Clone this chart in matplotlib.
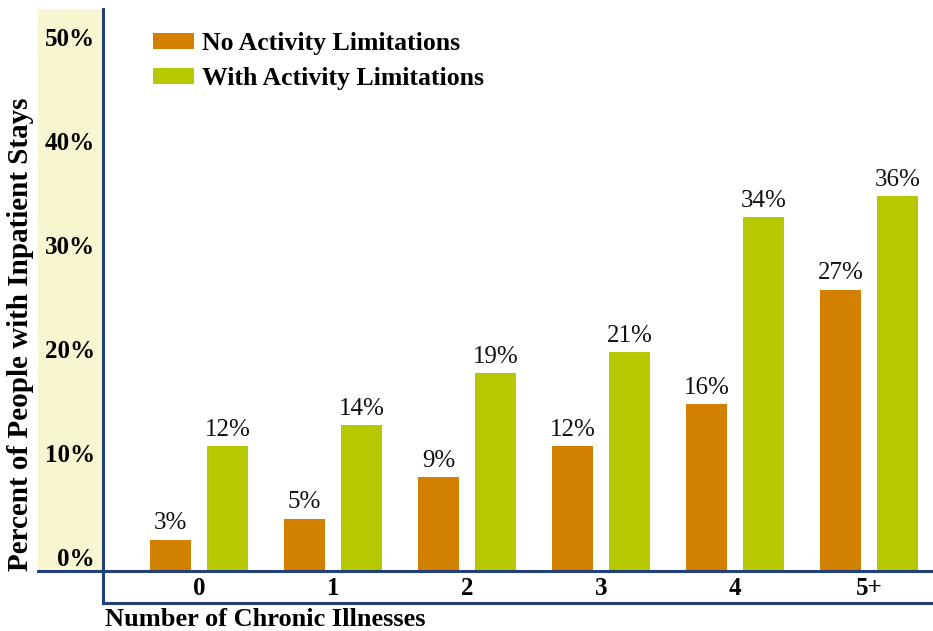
import matplotlib.pyplot as plt
import numpy as np
from matplotlib.lines import Line2D
from matplotlib.patches import Rectangle


# =====================================================
# DATA
# =====================================================

categories = ["0", "1", "2", "3", "4", "5+"]

no_limitations = [3, 5, 9, 12, 16, 27]
with_limitations = [12, 14, 19, 21, 34, 36]

y_ticks = [0, 10, 20, 30, 40, 50]
y_tick_labels = ["0%", "10%", "20%", "30%", "40%", "50%"]


# =====================================================
# STYLE
# =====================================================

plt.rcParams["font.family"] = ["Liberation Serif", "DejaVu Serif"]

ORANGE = "#D18000"
GREEN = "#B5C800"
NAVY = "#22417A"
BAND = "#F8F5D1"


# =====================================================
# FIGURE
# =====================================================

fig = plt.figure(figsize=(9.33, 6.31), dpi=100)

ax = fig.add_axes([0.1104, 0.0951, 0.8896, 0.8906])

x = np.arange(len(categories))
width = 0.306
offset = 0.213

bars_no = ax.bar(
    x - offset,
    no_limitations,
    width,
    color=ORANGE,
    label="No Activity Limitations",
    zorder=2
)

bars_with = ax.bar(
    x + offset,
    with_limitations,
    width,
    color=GREEN,
    label="With Activity Limitations",
    zorder=2
)

# value labels above the bars
for bars, values in [(bars_no, no_limitations), (bars_with, with_limitations)]:
    for bar, value in zip(bars, values):
        ax.annotate(
            f"{value}%",
            (bar.get_x() + bar.get_width() / 2, value),
            xytext=(0, 4),
            textcoords="offset points",
            ha="center",
            va="bottom",
            fontsize=18,
            color="#111111"
        )

ax.set_xlim(-0.716, 5.478)
ax.set_ylim(0, 54)

for spine in ax.spines.values():
    spine.set_visible(False)


# =====================================================
# TICKS
# =====================================================

ax.set_xticks(x)
ax.set_xticklabels(categories, fontsize=18, fontweight="bold")
ax.tick_params(axis="x", length=0, pad=4)

ax.set_yticks(y_ticks)
ax.set_yticklabels(y_tick_labels, fontsize=18, fontweight="bold")
ax.tick_params(axis="y", length=0, pad=6)

for label in ax.get_yticklabels():
    label.set_va("bottom")


# =====================================================
# FRAME: BAND AND AXIS LINES
# =====================================================

band_left = (38 - 103) / 830
bottom_line = -(603 - 571) / 562

ax.add_patch(Rectangle(
    (band_left, 0),
    -band_left,
    1,
    transform=ax.transAxes,
    facecolor=BAND,
    edgecolor="none",
    clip_on=False,
    zorder=0
))

line_kw = dict(
    color=NAVY,
    linewidth=2.2,
    transform=ax.transAxes,
    clip_on=False,
    zorder=3
)

ax.add_line(Line2D([band_left, 1], [0, 0], **line_kw))
ax.add_line(Line2D([0, 1], [bottom_line, bottom_line], **line_kw))
ax.add_line(Line2D([0, 0], [bottom_line, 1], **line_kw))


# =====================================================
# LEGEND AND AXIS TITLES
# =====================================================

ax.legend(
    loc="upper left",
    bbox_to_anchor=(0.048, 0.977),
    frameon=False,
    prop={"size": 18.5, "weight": "bold"},
    handlelength=1.6,
    handleheight=0.6,
    handletextpad=0.3,
    labelspacing=0.45,
    borderaxespad=0
)

fig.text(
    105 / 933,
    (631 - 620) / 631,
    "Number of Chronic Illnesses",
    ha="left",
    va="center",
    fontsize=19,
    fontweight="bold"
)

fig.text(
    21 / 933,
    (631 - 334) / 631,
    "Percent of People with Inpatient Stays",
    ha="center",
    va="center",
    rotation=90,
    fontsize=21,
    fontweight="bold"
)

fig.savefig("out.png", dpi=100)
